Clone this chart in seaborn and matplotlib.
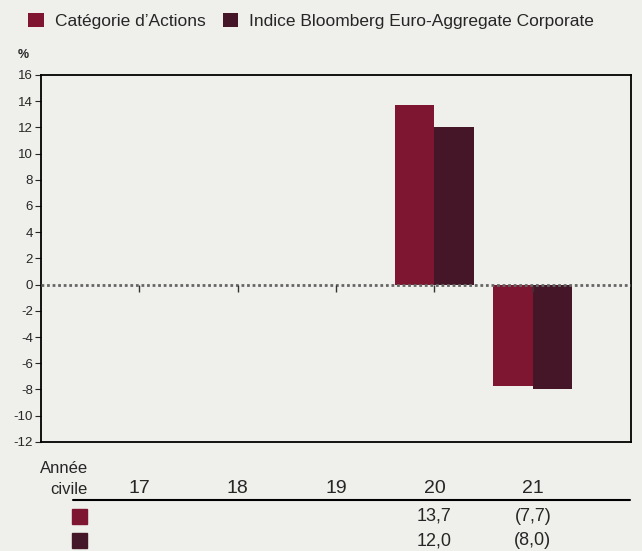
import numpy as np
import pandas as pd
import matplotlib
matplotlib.use('Agg')
import matplotlib.pyplot as plt
import matplotlib.transforms as mtransforms
from matplotlib.patches import Patch
import seaborn as sns

# data
years = ['17', '18', '19', '20', '21']
fund = [np.nan, np.nan, np.nan, 13.7, -7.7]
index = [np.nan, np.nan, np.nan, 12.0, -8.0]
fund_labels = ['', '', '', '13,7', '(7,7)']
index_labels = ['', '', '', '12,0', '(8,0)']
series_names = ['Catégorie d\u2019Actions', 'Indice Bloomberg Euro-Aggregate Corporate']
colors = ['#7E1631', '#441628']
bg = '#EFEFEB'

df = pd.DataFrame({
    'Année': years * 2,
    'Série': [series_names[0]] * len(years) + [series_names[1]] * len(years),
    'Valeur': fund + index,
})

sns.set_style('white')
plt.rcParams['font.family'] = ['Liberation Sans', 'DejaVu Sans']
plt.rcParams['axes.unicode_minus'] = False

fig = plt.figure(figsize=(6.42, 5.51), dpi=100, facecolor=bg)
ax = fig.add_axes([0.064, 0.198, 0.919, 0.666], facecolor=bg)

sns.barplot(data=df, x='Année', y='Valeur', hue='Série', order=years,
            hue_order=series_names, palette=colors, width=0.8,
            saturation=1, legend=False, edgecolor='none', linewidth=0, ax=ax)

ax.set_xlim(-1, len(years))
ax.set_ylim(-12, 16)
ax.set_yticks(range(-12, 17, 2))
ax.tick_params(axis='y', length=4, width=0.8, labelsize=9.5, pad=2, left=True)
ax.set_xticks([])
ax.set_xlabel('')
ax.set_ylabel('')
for s in ax.spines.values():
    s.set_color('black')
    s.set_linewidth(1.3)

# zero line and small ticks on it
ax.axhline(0, color='#666666', lw=2, ls=(0, (1, 1)), zorder=3)
ax.vlines(range(len(years)), -0.55, 0, color='#333333', lw=1, zorder=3)

fig.text(0.037, 0.9, '%', fontsize=9, fontweight='bold', ha='center', va='center')

# legend at top
handles = [Patch(facecolor=c, edgecolor='none') for c in colors]
fig.legend(handles, series_names, loc='upper left', bbox_to_anchor=(0.02, 1.005),
           ncol=2, frameon=False, fontsize=12.5, handlelength=0.9, handleheight=0.9,
           handletextpad=0.6, columnspacing=1.0)

# table under the chart
trans = mtransforms.blended_transform_factory(ax.transData, fig.transFigure)
fig.text(0.137, 0.131, 'Année\ncivile', ha='right', va='center', fontsize=12,
         linespacing=1.45)
for i, y in enumerate(years):
    ax.text(i, 0.113, y, transform=trans, ha='center', va='center', fontsize=14)
    ax.text(i, 0.063, fund_labels[i], transform=trans, ha='center', va='center', fontsize=13)
    ax.text(i, 0.019, index_labels[i], transform=trans, ha='center', va='center', fontsize=13)
fig.add_artist(plt.Line2D([0.114, 0.982], [0.092, 0.092], color='black', lw=1.5,
                          transform=fig.transFigure))
for c, yy in zip(colors, [0.062, 0.018]):
    fig.add_artist(plt.Rectangle((0.112, yy - 0.013), 0.023, 0.027, color=c,
                                 transform=fig.transFigure))

fig.savefig('out.png', dpi=100, facecolor=bg)
